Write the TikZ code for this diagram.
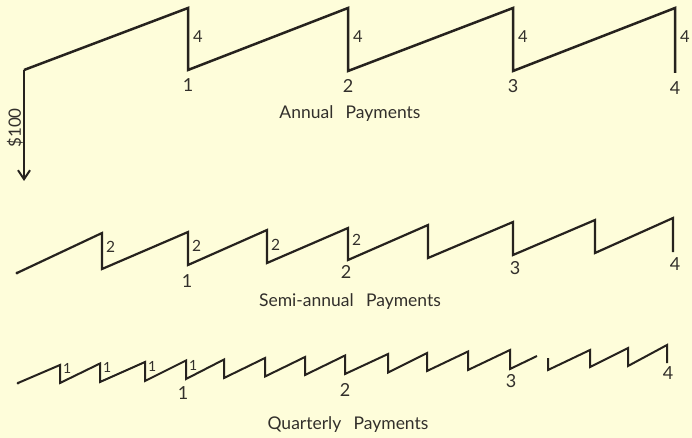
\documentclass[tikz,border=0pt]{standalone}
\usepackage{fontspec}
\setmainfont{Lato}
\usetikzlibrary{arrows.meta}
\definecolor{paper}{RGB}{254,253,218}
\definecolor{ink}{RGB}{38,34,30}
\definecolor{txt}{RGB}{50,47,43}
\begin{document}
\begin{tikzpicture}[x=1pt,y=-1pt,
  aline/.style={draw=ink, line width=2.5pt, line join=miter, line cap=butt},
  sline/.style={draw=ink, line width=2.2pt, line join=miter},
  qline/.style={draw=ink, line width=2pt, line join=miter},
  title/.style={text=txt, font=\fontsize{17.5}{20}\selectfont, inner sep=0pt},
  num/.style={text=txt, font=\fontsize{18}{20}\selectfont, inner sep=0pt},
  side/.style={text=txt, font=\fontsize{16.5}{18}\selectfont, inner sep=0pt, anchor=west},
  qside/.style={text=txt, font=\fontsize{14}{16}\selectfont, inner sep=0pt, anchor=west}]
\fill[paper] (0,0) rectangle (692,438);
\useasboundingbox (0,0) rectangle (692,438);

% ---------------- Annual ----------------
\coordinate (a0) at (24,70);
\coordinate (aend) at (24,181);
\coordinate (a1t) at (188,8);  \coordinate (a1b) at (188,70);
\coordinate (a2t) at (348,8);  \coordinate (a2b) at (348,71);
\coordinate (a3t) at (513,8);  \coordinate (a3b) at (513,71);
\coordinate (a4t) at (675,8);  \coordinate (a4b) at (675,73);
\draw[aline] (a0) -- (a1t) -- (a1b) -- (a2t) -- (a2b) -- (a3t) -- (a3b) -- (a4t) -- (a4b);
\draw[aline, -{Straight Barb[length=9pt,width=12pt,line width=2pt]}] (a0) -- (aend);
\node[text=txt, font=\fontsize{17}{19}\selectfont, inner sep=0pt, rotate=90] (dollar) at (15,128) {\$100};
\foreach \i/\x in {1/188,2/348,3/513,4/675}{
  \node[side] (al\i) at (\x+5,37) {4};
}
\node[num] (an1) at (188,85) {1};
\node[num] (an2) at (348,86) {2};
\node[num] (an3) at (513,86) {3};
\node[num] (an4) at (675,88) {4};
\node[title] (atitle) at (350,114) {Annual\hspace{0.7em}Payments};

% ---------------- Semi-annual ----------------
\coordinate (s0) at (17,273);
\foreach \i/\x/\t/\b in {1/102/233/269, 2/188/232/265, 3/267/230/263, 4/348/228/260,
                         5/428/225/258, 6/513/222/255, 7/595/220/253, 8/673/218/252}{
  \coordinate (s\i t) at (\x,\t);
  \coordinate (s\i b) at (\x,\b);
}
\draw[sline] (s0) foreach \i in {1,...,8}{ -- (s\i t) -- (s\i b)};
\fill[ink] (s0) circle (1.6pt);
\foreach \i/\x/\y in {1/102/247, 2/188/246, 3/267/245, 4/348/240}{
  \node[side, font=\fontsize{15.5}{17}\selectfont] (sl\i) at (\x+4,\y) {2};
}
\node[num] (sn1) at (187,281) {1};
\node[num] (sn2) at (346,272) {2};
\node[num] (sn3) at (515,268) {3};
\node[num] (sn4) at (675,264) {4};
\node[title] (stitle) at (350,302) {Semi-annual\hspace{0.7em}Payments};

% ---------------- Quarterly ----------------
\coordinate (q0) at (18,383);
\foreach \i/\x/\t/\b in {1/60/365/383, 2/100/363.5/382, 3/145/362/381, 4/186/360.5/379,
                         5/224/359.5/378, 6/265/358/376.5, 7/305/357/375, 8/345/355.5/374,
                         9/388/354/372.5, 10/427/353/371, 11/468/351.5/370, 12/510/350/369}{
  \coordinate (q\i t) at (\x,\t);
  \coordinate (q\i b) at (\x,\b);
}
\coordinate (qbreak) at (537,356);
\draw[qline] (q0) foreach \i in {1,...,12}{ -- (q\i t) -- (q\i b)} -- (qbreak);
\coordinate (r0) at (548,358);
\coordinate (r1b) at (548,370);
\coordinate (r2t) at (590,350); \coordinate (r2b) at (590,367);
\coordinate (r3t) at (628,348); \coordinate (r3b) at (628,366);
\coordinate (r4t) at (667,345); \coordinate (r4b) at (667,363);
\draw[qline] (r0) -- (r1b) -- (r2t) -- (r2b) -- (r3t) -- (r3b) -- (r4t) -- (r4b);
\fill[ink] (q0) circle (1.5pt);
\foreach \i/\x/\y in {1/60/368, 2/100/367, 3/145/366, 4/186/365}{
  \node[qside] (ql\i) at (\x+3,\y) {1};
}
\node[num] (qn1) at (183,393) {1};
\node[num] (qn2) at (345,390) {2};
\node[num] (qn3) at (511,381) {3};
\node[num] (qn4) at (668,373) {4};
\node[title] (qtitle) at (348,425) {Quarterly\hspace{0.7em}Payments};
\end{tikzpicture}
\end{document}
